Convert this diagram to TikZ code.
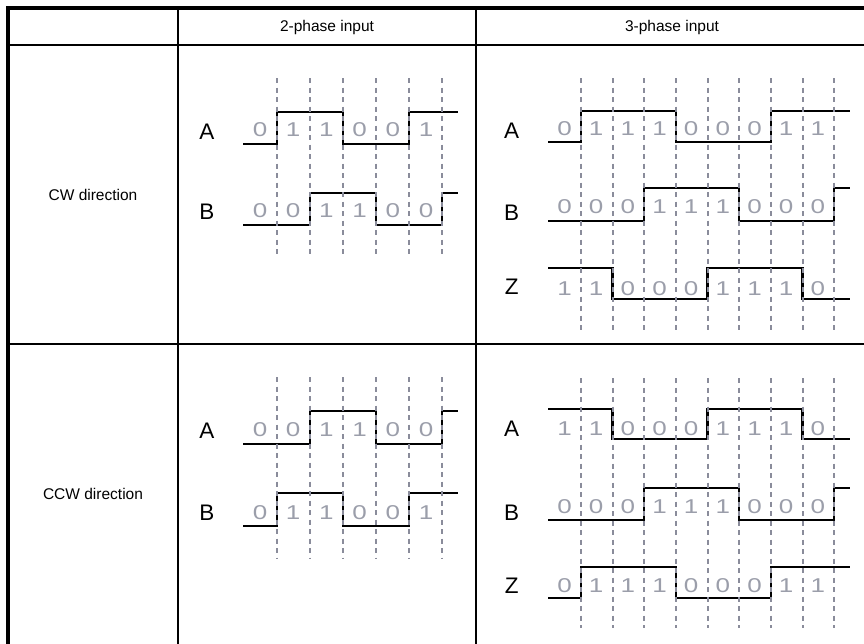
\documentclass[tikz,border=0pt]{standalone}
\usepackage{fontspec}
\setmainfont{Liberation Sans}
\definecolor{gridgray}{RGB}{138,140,155}
\definecolor{bitgray}{RGB}{155,158,170}
\newcommand\widebit[1]{\scalebox{1.3}[1]{#1}}
\begin{document}
\begin{tikzpicture}[x=1pt,y=-1pt,
  frame/.style={line width=#1,black},
  wave/.style={line width=1.8pt,black,line join=miter},
  wavethick/.style={line width=2.4pt,black,line join=miter},
  gridline/.style={gridgray,line width=1.8pt,dash pattern=on 5pt off 4.5pt},
  bit/.style={anchor=base,text=bitgray,font=\fontsize{20}{20}\selectfont,inner sep=0pt},
  sig/.style={anchor=base,font=\fontsize{22.5}{22.5}\selectfont,inner sep=0pt},
  hdr/.style={font=\fontsize{15.5}{15.5}\selectfont,inner sep=0pt}]
\useasboundingbox (0,0) rectangle (864,643);
% ---------- table frame ----------
\draw[frame=2pt] (8,44.7) -- (872,44.7);
\draw[frame=2pt] (8,344.3) -- (872,344.3);
\draw[frame=2.6pt] (177.8,8) -- (177.8,650);
\draw[frame=2.2pt] (475.7,8) -- (475.7,650);
\draw[frame=3.8pt] (6,8) -- (872,8);
\draw[frame=4.2pt] (7.8,6) -- (7.8,650);
% ---------- headers ----------
\node[hdr] (h2) at (327,27) {2-phase input};
\node[hdr] (h3) at (672,27) {3-phase input};
\node[hdr] (rcw) at (93,195) {CW direction};
\node[hdr] (rccw) at (93,494) {CCW direction};
% ---------- waveforms: 2-phase CW ----------
\draw[wave] (243,144)--(277,144)--(277,112)--(343,112)--(343,144)--(409,144)--(409,112)--(458,112);
\draw[wave] (243,225)--(310,225)--(310,193)--(376,193)--(376,225)--(442,225)--(442,193)--(458,193);
% 2-phase CCW
\draw[wave] (243,444)--(310,444)--(310,411)--(376,411)--(376,444)--(442,444)--(442,411)--(458,411);
\draw[wave] (243,526)--(277,526)--(277,493)--(343,493)--(343,526)--(409,526)--(409,493)--(458,493);
% 3-phase CW
\draw[wave] (548,142)--(581,142)--(581,111)--(676,111)--(676,142)--(771,142)--(771,111)--(850,111);
\draw[wave] (548,221)--(644.3,221)--(644.3,188)--(739.3,188)--(739.3,221)--(834.3,221)--(834.3,188)--(850,188);
\draw[wavethick] (548,268)--(612.6,268)--(612.6,299)--(707.6,299)--(707.6,268)--(802.6,268)--(802.6,299)--(850,299);
% 3-phase CCW
\draw[wavethick] (548,409)--(612.6,409)--(612.6,439)--(707.6,439)--(707.6,409)--(802.6,409)--(802.6,439)--(850,439);
\draw[wave] (548,520)--(644.3,520)--(644.3,488)--(739.3,488)--(739.3,520)--(834.3,520)--(834.3,488)--(850,488);
\draw[wave] (548,598)--(581,598)--(581,567)--(676,567)--(676,598)--(771,598)--(771,567)--(850,567);
% ---------- dashed grid lines ----------
\foreach \x in {277,310,343,376,409,442}{
  \draw[gridline] (\x,78) -- (\x,258);
  \draw[gridline] (\x,377) -- (\x,558);
}
\foreach \x in {581,612.6,644.3,676,707.6,739.3,771,802.6,834.3}{
  \draw[gridline] (\x,78) -- (\x,330);
  \draw[gridline] (\x,378) -- (\x,628);
}
% ---------- signal labels ----------
\node[sig] (a2cw) at (207,139) {A};
\node[sig] (b2cw) at (207,219) {B};
\node[sig] (a2ccw) at (207,438) {A};
\node[sig] (b2ccw) at (207,520) {B};
\node[sig] (a3cw) at (511.7,138.3) {A};
\node[sig] (b3cw) at (511.7,220) {B};
\node[sig] (z3cw) at (511.7,294.3) {Z};
\node[sig] (a3ccw) at (511.7,436) {A};
\node[sig] (b3ccw) at (511.7,520) {B};
\node[sig] (z3ccw) at (511.7,593.3) {Z};
% ---------- bits, 2-phase ----------
\foreach \b [count=\i] in {0,1,1,0,0,1}{
  \pgfmathsetmacro\cx{260+33.2*(\i-1)}
  \node[bit] at (\cx,136) {\widebit{\b}};}
\foreach \b [count=\i] in {0,0,1,1,0,0}{
  \pgfmathsetmacro\cx{260+33.2*(\i-1)}
  \node[bit] at (\cx,217.3) {\widebit{\b}};}
\foreach \b [count=\i] in {0,0,1,1,0,0}{
  \pgfmathsetmacro\cx{260+33.2*(\i-1)}
  \node[bit] at (\cx,436) {\widebit{\b}};}
\foreach \b [count=\i] in {0,1,1,0,0,1}{
  \pgfmathsetmacro\cx{260+33.2*(\i-1)}
  \node[bit] at (\cx,519) {\widebit{\b}};}
% ---------- bits, 3-phase ----------
\foreach \b [count=\i] in {0,1,1,1,0,0,0,1,1}{
  \pgfmathsetmacro\cx{564.5+31.67*(\i-1)}
  \node[bit] at (\cx,135) {\widebit{\b}};}
\foreach \b [count=\i] in {0,0,0,1,1,1,0,0,0}{
  \pgfmathsetmacro\cx{564.5+31.67*(\i-1)}
  \node[bit] at (\cx,213.3) {\widebit{\b}};}
\foreach \b [count=\i] in {1,1,0,0,0,1,1,1,0}{
  \pgfmathsetmacro\cx{564.5+31.67*(\i-1)}
  \node[bit] at (\cx,295) {\widebit{\b}};}
\foreach \b [count=\i] in {1,1,0,0,0,1,1,1,0}{
  \pgfmathsetmacro\cx{564.5+31.67*(\i-1)}
  \node[bit] at (\cx,435) {\widebit{\b}};}
\foreach \b [count=\i] in {0,0,0,1,1,1,0,0,0}{
  \pgfmathsetmacro\cx{564.5+31.67*(\i-1)}
  \node[bit] at (\cx,513.3) {\widebit{\b}};}
\foreach \b [count=\i] in {0,1,1,1,0,0,0,1,1}{
  \pgfmathsetmacro\cx{564.5+31.67*(\i-1)}
  \node[bit] at (\cx,592.3) {\widebit{\b}};}
\end{tikzpicture}
\end{document}
